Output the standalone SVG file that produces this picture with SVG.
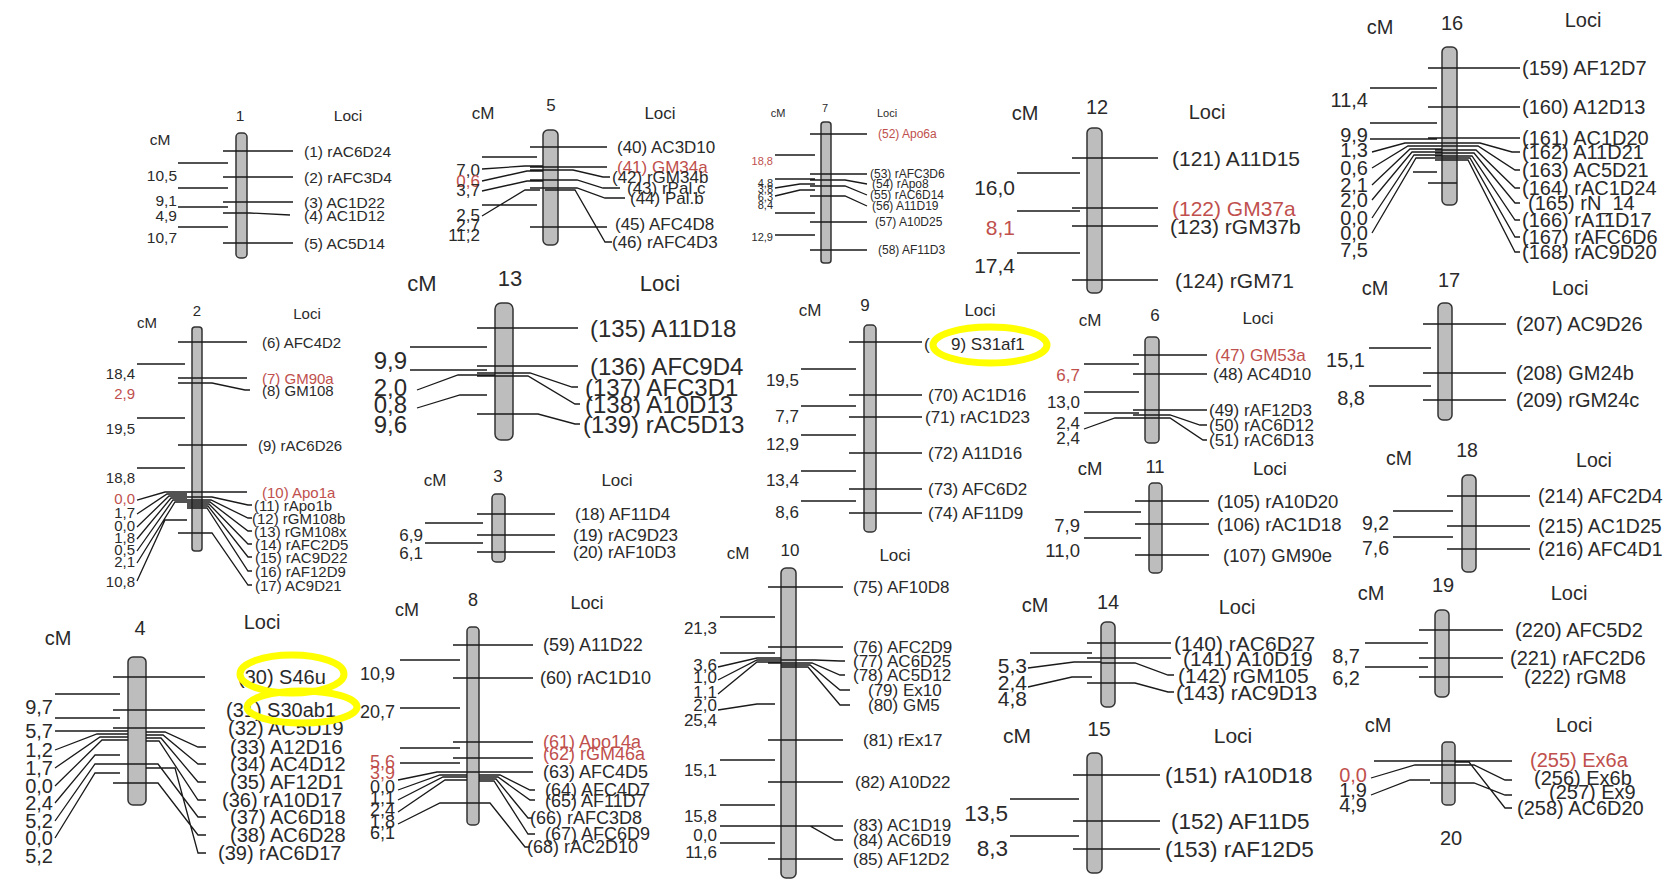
<svg xmlns="http://www.w3.org/2000/svg" width="1672" height="884" viewBox="0 0 1672 884">
<style>
text{font-family:"Liberation Sans",Arial,sans-serif;fill:#2a2a2a;dominant-baseline:central}
.r{fill:#c0504d}
.e{text-anchor:end}
.m{text-anchor:middle}
.bar{fill:#bdbdbd;stroke:#333;stroke-width:1.5}
.ln{fill:none;stroke:#1a1a1a;stroke-width:1.3}
.hl{fill:none;stroke:#ffff00;stroke-width:7}
</style>
<rect width="1672" height="884" fill="#fff"/>

<g id="chr1" font-size="15.5">
<text class="m" x="240" y="115">1</text><text class="m" x="348" y="115">Loci</text><text class="m" x="160" y="139">cM</text>
<rect class="bar" x="236" y="133" width="11" height="125" rx="4"/>
<path class="ln" d="M223,151H293M223,177H293M223,202H293M223,213H250L290,215M223,243H293M178,163H228M178,188H228M178,207H228M178,227H228"/>
<text x="304" y="151">(1) rAC6D24</text><text x="304" y="177">(2) rAFC3D4</text><text x="304" y="202">(3) AC1D22</text><text x="304" y="215">(4) AC1D12</text><text x="304" y="243">(5) AC5D14</text>
<text class="e" x="177" y="175">10,5</text><text class="e" x="177" y="200">9,1</text><text class="e" x="177" y="215">4,9</text><text class="e" x="177" y="237">10,7</text>
</g>

<g id="chr5" font-size="17">
<text class="m" x="483" y="113">cM</text><text class="m" x="551" y="105">5</text><text class="m" x="660" y="113">Loci</text>
<rect class="bar" x="543" y="130" width="15" height="115" rx="5"/>
<path class="ln" d="M530,147H607M530,167H607M530,170H573L603,177H610M530,180H577L603,188H620M530,188H577L605,198H625M545,190H575L605,242H612M530,227H607M482,157H537M482,169L525,166H543M482,181L527,171H543M482,191L527,181H543M482,205H537M482,216L525,190H540"/>
<text x="617" y="147">(40) AC3D10</text><text class="r" x="617" y="167">(41) GM34a</text><text x="612" y="177">(42) rGM34b</text><text x="627" y="188">(43) rPal.c</text><text x="630" y="198">(44) Pal.b</text><text x="615" y="224">(45) AFC4D8</text><text x="612" y="242">(46) rAFC4D3</text>
<text class="e" x="480" y="170">7,0</text><text class="e r" x="480" y="181">0,6</text><text class="e" x="480" y="190">3,7</text><text class="e" x="480" y="215">2,5</text><text class="e" x="480" y="225">2,7</text><text class="e" x="480" y="235">11,2</text>
</g>

<g id="chr7" font-size="12">
<text class="m" x="778" y="113" font-size="11">cM</text><text class="m" x="825" y="108" font-size="11">7</text><text class="m" x="887" y="113" font-size="11">Loci</text>
<rect class="bar" x="821" y="122" width="10" height="141" rx="3"/>
<path class="ln" d="M810,134H867M810,174H867M810,180H845L867,184M810,186H845L867,195M810,196H845L867,206M810,222H867M810,250H867M775,155H815M775,179H815M775,188L800,184H815M775,196L800,190H815M775,213H815M775,235H815"/>
<text class="r" x="878" y="134">(52) Apo6a</text><text x="870" y="174">(53) rAFC3D6</text><text x="872" y="184">(54) rApo8</text><text x="870" y="195">(55) rAC6D14</text><text x="872" y="206">(56) A11D19</text><text x="875" y="222">(57) A10D25</text><text x="878" y="250">(58) AF11D3</text>
<g font-size="11"><text class="e r" x="773" y="161">18,8</text><text class="e" x="773" y="183">4,8</text><text class="e" x="773" y="189">3,8</text><text class="e" x="773" y="197">6,3</text><text class="e" x="773" y="205">8,4</text><text class="e" x="773" y="237">12,9</text></g>
</g>

<g id="chr12" font-size="21">
<text class="m" x="1025" y="113" font-size="20">cM</text><text class="m" x="1097" y="107" font-size="20">12</text><text class="m" x="1207" y="112" font-size="20">Loci</text>
<rect class="bar" x="1087" y="128" width="15" height="165" rx="5"/>
<path class="ln" d="M1072,158H1158M1072,208H1158M1072,226H1158M1072,280H1158M1017,173H1080M1017,211H1080M1017,253H1080"/>
<text x="1172" y="158">(121) A11D15</text><text class="r" x="1172" y="208">(122) GM37a</text><text x="1170" y="226">(123) rGM37b</text><text x="1175" y="280">(124) rGM71</text>
<text class="e" x="1015" y="187">16,0</text><text class="e r" x="1015" y="227">8,1</text><text class="e" x="1015" y="265">17,4</text>
</g>

<g id="chr16" font-size="20">
<text class="m" x="1380" y="27">cM</text><text class="m" x="1452" y="23">16</text><text class="m" x="1583" y="20">Loci</text>
<rect class="bar" x="1442" y="47" width="15" height="158" rx="5"/>
<path class="ln" d="M1428,68H1520M1428,107H1520M1428,138H1520M1428,143H1480L1512,152H1520M1435,146H1478L1515,170H1520M1435,150H1476L1515,188H1520M1435,153H1474L1515,203H1520M1435,156H1472L1515,220H1520M1435,158H1470L1515,237H1520M1435,160H1468L1515,252H1520M1428,183H1457M1370,88H1437M1370,123H1437M1370,139H1437M1372,152L1405,143H1442M1372,168L1408,146H1442M1372,185L1410,149H1442M1372,200L1412,152H1442M1372,218L1414,155H1442M1372,233L1416,158H1442M1413,172H1437"/>
<text x="1522" y="68">(159) AF12D7</text><text x="1522" y="107">(160) A12D13</text><text x="1522" y="138">(161) AC1D20</text><text x="1522" y="152">(162) A11D21</text><text x="1522" y="170">(163) AC5D21</text><text x="1522" y="188">(164) rAC1D24</text><text x="1528" y="203">(165) rN_14</text><text x="1522" y="220">(166) rA11D17</text><text x="1522" y="237">(167) rAFC6D6</text><text x="1522" y="252">(168) rAC9D20</text>
<text class="e" x="1368" y="100">11,4</text><text class="e" x="1368" y="135">9,9</text><text class="e" x="1368" y="150">1,3</text><text class="e" x="1368" y="168">0,6</text><text class="e" x="1368" y="185">2,1</text><text class="e" x="1368" y="200">2,0</text><text class="e" x="1368" y="218">0,0</text><text class="e" x="1368" y="233">0,0</text><text class="e" x="1368" y="250">7,5</text>
</g>

<g id="chr2" font-size="15">
<text class="m" x="147" y="322">cM</text><text class="m" x="197" y="310">2</text><text class="m" x="307" y="313">Loci</text>
<rect class="bar" x="192" y="327" width="10" height="224" rx="3"/>
<path class="ln" d="M178,342H247M178,378H247M178,383H212L245,390H250M178,445H247M178,492H247M187,497H212L248,505H252M187,500H211L248,518H252M187,502H210L248,531H252M187,504H209L248,544H252M187,506H208L248,557H252M187,508H207L248,571H252M178,533H212L248,585H252M137,364H185M137,418H185M137,468H185M137,500L165,492H187M137,514L167,494H187M137,527L169,496H187M137,539L171,498H187M137,551L173,500H187M137,563L175,502H187M137,581L165,520H187"/>
<text x="262" y="342">(6) AFC4D2</text><text class="r" x="262" y="378">(7) GM90a</text><text x="262" y="390">(8) GM108</text><text x="258" y="445">(9) rAC6D26</text><text class="r" x="262" y="492">(10) Apo1a</text><text x="254" y="505">(11) rApo1b</text><text x="252" y="518">(12) rGM108b</text><text x="254" y="531">(13) rGM108x</text><text x="255" y="544">(14) rAFC2D5</text><text x="255" y="557">(15) rAC9D22</text><text x="255" y="571">(16) rAF12D9</text><text x="255" y="585">(17) AC9D21</text>
<text class="e" x="135" y="373">18,4</text><text class="e r" x="135" y="393">2,9</text><text class="e" x="135" y="428">19,5</text><text class="e" x="135" y="477">18,8</text><text class="e r" x="135" y="498">0,0</text><text class="e" x="135" y="512">1,7</text><text class="e" x="135" y="525">0,0</text><text class="e" x="135" y="537">1,8</text><text class="e" x="135" y="549">0,5</text><text class="e" x="135" y="561">2,1</text><text class="e" x="135" y="581">10,8</text>
</g>

<g id="chr13" font-size="24">
<text class="m" x="422" y="283" font-size="22">cM</text><text class="m" x="510" y="278" font-size="22">13</text><text class="m" x="660" y="283" font-size="22">Loci</text>
<rect class="bar" x="495" y="303" width="18" height="137" rx="6"/>
<path class="ln" d="M477,328H578M477,366H578M477,373H530L572,387H578M477,376H528L575,404H580M477,414H538L575,424H580M410,347H487M410,370H487M417,390L458,375H495M417,408L460,395H487"/>
<text x="590" y="328">(135) A11D18</text><text x="590" y="366">(136) AFC9D4</text><text x="585" y="387">(137) AFC3D1</text><text x="585" y="404">(138) A10D13</text><text x="583" y="424">(139) rAC5D13</text>
<text class="e" x="407" y="360">9,9</text><text class="e" x="407" y="387">2,0</text><text class="e" x="407" y="404">0,8</text><text class="e" x="407" y="424">9,6</text>
</g>

<g id="chr3" font-size="17">
<text class="m" x="435" y="480">cM</text><text class="m" x="498" y="476">3</text><text class="m" x="617" y="480">Loci</text>
<rect class="bar" x="492" y="494" width="13" height="68" rx="4"/>
<path class="ln" d="M477,514H555M477,535H555M477,552H555M425,523H483M425,543H483"/>
<text x="575" y="514">(18) AF11D4</text><text x="573" y="535">(19) rAC9D23</text><text x="573" y="552">(20) rAF10D3</text>
<text class="e" x="423" y="535">6,9</text><text class="e" x="423" y="553">6,1</text>
</g>

<g id="chr9" font-size="17">
<text class="m" x="810" y="310">cM</text><text class="m" x="865" y="305">9</text><text class="m" x="980" y="310">Loci</text>
<rect class="bar" x="864" y="325" width="12" height="207" rx="4"/>
<path class="ln" d="M849,342H922M849,395H922M849,417H922M849,453H922M849,489H922M849,513H922M801,369H856M801,406H856M801,435H856M801,471H856M801,501H856"/>
<text x="924" y="344">(</text><text x="951" y="344">9) S31af1</text>
<text x="928" y="395">(70) AC1D16</text><text x="925" y="417">(71) rAC1D23</text><text x="928" y="453">(72) A11D16</text><text x="928" y="489">(73) AFC6D2</text><text x="928" y="513">(74) AF11D9</text>
<text class="e" x="799" y="380">19,5</text><text class="e" x="799" y="416">7,7</text><text class="e" x="799" y="444">12,9</text><text class="e" x="799" y="480">13,4</text><text class="e" x="799" y="512">8,6</text>
<ellipse class="hl" cx="990" cy="345" rx="57" ry="18"/>
</g>

<g id="chr6" font-size="17">
<text class="m" x="1090" y="320">cM</text><text class="m" x="1155" y="315">6</text><text class="m" x="1258" y="318">Loci</text>
<rect class="bar" x="1145" y="337" width="14" height="106" rx="4"/>
<path class="ln" d="M1133,355H1207M1133,374H1207M1133,410H1207M1133,415H1170L1200,425H1207M1145,418H1170L1203,440H1207M1084,364H1139M1084,392H1139M1084,413H1139M1084,429L1115,418H1145"/>
<text class="r" x="1215" y="355">(47) GM53a</text><text x="1213" y="374">(48) AC4D10</text><text x="1209" y="410">(49) rAF12D3</text><text x="1209" y="425">(50) rAC6D12</text><text x="1209" y="440">(51) rAC6D13</text>
<text class="e r" x="1080" y="375">6,7</text><text class="e" x="1080" y="402">13,0</text><text class="e" x="1080" y="423">2,4</text><text class="e" x="1080" y="438">2,4</text>
</g>

<g id="chr17" font-size="20">
<text class="m" x="1375" y="288">cM</text><text class="m" x="1449" y="280">17</text><text class="m" x="1570" y="288">Loci</text>
<rect class="bar" x="1438" y="303" width="14" height="117" rx="5"/>
<path class="ln" d="M1423,324H1506M1423,373H1506M1423,400H1506M1369,348H1431M1369,386H1431"/>
<text x="1516" y="324">(207) AC9D26</text><text x="1516" y="373">(208) GM24b</text><text x="1516" y="400">(209) rGM24c</text>
<text class="e" x="1365" y="360">15,1</text><text class="e" x="1365" y="398">8,8</text>
</g>

<g id="chr11" font-size="18.5">
<text class="m" x="1090" y="468">cM</text><text class="m" x="1155" y="466">11</text><text class="m" x="1270" y="468">Loci</text>
<rect class="bar" x="1149" y="483" width="13" height="90" rx="4"/>
<path class="ln" d="M1135,501H1209M1135,524H1209M1135,555H1209M1084,512H1141M1084,538H1141"/>
<text x="1217" y="501">(105) rA10D20</text><text x="1217" y="524">(106) rAC1D18</text><text x="1223" y="555">(107) GM90e</text>
<text class="e" x="1080" y="525">7,9</text><text class="e" x="1080" y="550">11,0</text>
</g>

<g id="chr18" font-size="19.5">
<text class="m" x="1399" y="458">cM</text><text class="m" x="1467" y="450">18</text><text class="m" x="1594" y="460">Loci</text>
<rect class="bar" x="1462" y="475" width="14" height="97" rx="5"/>
<path class="ln" d="M1447,496H1530M1447,526H1530M1447,549H1530M1393,511H1453M1393,537H1453"/>
<text x="1538" y="496">(214) AFC2D4</text><text x="1538" y="526">(215) AC1D25</text><text x="1538" y="549">(216) AFC4D1</text>
<text class="e" x="1389" y="523">9,2</text><text class="e" x="1389" y="548">7,6</text>
</g>

<g id="chr4" font-size="20">
<text class="m" x="58" y="638">cM</text><text class="m" x="140" y="628">4</text><text class="m" x="262" y="622">Loci</text>
<rect class="bar" x="128" y="657" width="18" height="148" rx="5"/>
<path class="ln" d="M113,677H205M113,710H205M113,728H205M146,732H165L198,747H206M146,735H163L198,764H206M146,738H161L198,782H206M146,741H159L198,800H206M113,764H158L198,817H206M113,783H158L198,835H206M146,768H175L198,853H206M55,694H120M55,718H120M55,731L97,731H128M55,750L97,734H128M55,768L100,737H128M55,786L102,740H128M55,803L95,755H120M55,821L95,764H120M55,838L95,773H120"/>
<text x="238" y="677">(30) S46u</text><text x="226" y="710">(31) S30ab1</text><text x="228" y="728">(32) AC5D19</text><text x="230" y="747">(33) A12D16</text><text x="230" y="764">(34) AC4D12</text><text x="230" y="782">(35) AF12D1</text><text x="222" y="800">(36) rA10D17</text><text x="230" y="817">(37) AC6D18</text><text x="230" y="835">(38) AC6D28</text><text x="218" y="853">(39) rAC6D17</text>
<text class="e" x="53" y="707">9,7</text><text class="e" x="53" y="731">5,7</text><text class="e" x="53" y="750">1,2</text><text class="e" x="53" y="768">1,7</text><text class="e" x="53" y="786">0,0</text><text class="e" x="53" y="803">2,4</text><text class="e" x="53" y="821">5,2</text><text class="e" x="53" y="838">0,0</text><text class="e" x="53" y="856">5,2</text>
<ellipse class="hl" cx="292" cy="674" rx="52" ry="19"/><ellipse class="hl" cx="302" cy="707" rx="55" ry="16"/>
</g>

<g id="chr8" font-size="18">
<text class="m" x="407" y="610">cM</text><text class="m" x="473" y="600">8</text><text class="m" x="587" y="603">Loci</text>
<rect class="bar" x="467" y="627" width="12" height="198" rx="4"/>
<path class="ln" d="M453,645H533M453,678H533M453,742H533M453,758H533M453,772H533M479,775H500L530,790H535M479,777H498L530,800H535M479,779H496L528,818H532M479,781H494L528,834H535M453,803H490L525,847H530M400,660H460M400,708H460M400,748H460M400,763H460M398,780L437,772H467M398,790L440,775H467M398,800L443,777H467M398,812L445,780H467M398,824L440,803H460"/>
<text x="543" y="645">(59) A11D22</text><text x="540" y="678">(60) rAC1D10</text><text class="r" x="543" y="742">(61) Apo14a</text><text class="r" x="543" y="754">(62) rGM46a</text><text x="543" y="772">(63) AFC4D5</text><text x="545" y="790">(64) AFC4D7</text><text x="545" y="801">(65) AF11D7</text><text x="530" y="818">(66) rAFC3D8</text><text x="545" y="834">(67) AFC6D9</text><text x="527" y="847">(68) rAC2D10</text>
<text class="e" x="395" y="674">10,9</text><text class="e" x="395" y="712">20,7</text><text class="e r" x="395" y="762">5,6</text><text class="e r" x="395" y="773">3,9</text><text class="e" x="395" y="787">0,0</text><text class="e" x="395" y="798">1,1</text><text class="e" x="395" y="810">2,4</text><text class="e" x="395" y="822">1,8</text><text class="e" x="395" y="833">6,1</text>
</g>

<g id="chr10" font-size="17">
<text class="m" x="738" y="553">cM</text><text class="m" x="790" y="550">10</text><text class="m" x="895" y="555">Loci</text>
<rect class="bar" x="781" y="568" width="15" height="310" rx="5"/>
<path class="ln" d="M768,587H843M768,647H843M768,660H815L840,661H845M768,663H812L840,675H845M781,665H810L840,690H850M781,667H808L840,705H850M768,740H843M768,782H843M720,826H843M796,826H810L835,840H843M768,859H843M720,617H775M720,653H775M718,667L757,658H781M718,680L757,660H781M718,694L757,662H781M718,710L757,704H775M720,760H775M720,805H775M720,843H775"/>
<text x="853" y="587">(75) AF10D8</text><text x="853" y="647">(76) AFC2D9</text><text x="853" y="661">(77) AC6D25</text><text x="853" y="675">(78) AC5D12</text><text x="868" y="690">(79) Ex10</text><text x="868" y="705">(80) GM5</text><text x="863" y="740">(81) rEx17</text><text x="855" y="782">(82) A10D22</text><text x="853" y="825">(83) AC1D19</text><text x="853" y="840">(84) AC6D19</text><text x="853" y="859">(85) AF12D2</text>
<text class="e" x="717" y="628">21,3</text><text class="e" x="717" y="665">3,6</text><text class="e" x="717" y="677">1,0</text><text class="e" x="717" y="692">1,1</text><text class="e" x="717" y="705">2,0</text><text class="e" x="717" y="720">25,4</text><text class="e" x="717" y="770">15,1</text><text class="e" x="717" y="816">15,8</text><text class="e" x="717" y="835">0,0</text><text class="e" x="717" y="852">11,6</text>
</g>

<g id="chr14" font-size="21">
<text class="m" x="1035" y="605" font-size="20">cM</text><text class="m" x="1108" y="602" font-size="20">14</text><text class="m" x="1237" y="607" font-size="20">Loci</text>
<rect class="bar" x="1101" y="622" width="14" height="85" rx="5"/>
<path class="ln" d="M1087,643H1171M1087,658H1171M1101,663H1135L1168,675H1174M1087,683H1135L1168,692H1174M1030,653H1092M1028,668L1074,662H1101M1028,687L1072,677H1092"/>
<text x="1174" y="643">(140) rAC6D27</text><text x="1183" y="658">(141) A10D19</text><text x="1178" y="675">(142) rGM105</text><text x="1176" y="692">(143) rAC9D13</text>
<text class="e" x="1027" y="665">5,3</text><text class="e" x="1027" y="682">2,4</text><text class="e" x="1027" y="698">4,8</text>
</g>

<g id="chr15" font-size="22.5">
<text class="m" x="1017" y="735" font-size="21">cM</text><text class="m" x="1099" y="728" font-size="21">15</text><text class="m" x="1233" y="735" font-size="21">Loci</text>
<rect class="bar" x="1087" y="753" width="15" height="120" rx="5"/>
<path class="ln" d="M1073,775H1160M1073,821H1160M1073,849H1160M1010,799H1079M1010,836H1079"/>
<text x="1165" y="775">(151) rA10D18</text><text x="1171" y="821">(152) AF11D5</text><text x="1165" y="849">(153) rAF12D5</text>
<text class="e" x="1008" y="813">13,5</text><text class="e" x="1008" y="848">8,3</text>
</g>

<g id="chr19" font-size="20">
<text class="m" x="1371" y="593">cM</text><text class="m" x="1443" y="585">19</text><text class="m" x="1569" y="593">Loci</text>
<rect class="bar" x="1435" y="610" width="14" height="87" rx="5"/>
<path class="ln" d="M1419,630H1503M1419,658H1503M1419,677H1503M1365,643H1428M1365,667H1428"/>
<text x="1515" y="630">(220) AFC5D2</text><text x="1510" y="658">(221) rAFC2D6</text><text x="1524" y="677">(222) rGM8</text>
<text class="e" x="1360" y="656">8,7</text><text class="e" x="1360" y="678">6,2</text>
</g>

<g id="chr20" font-size="20">
<text class="m" x="1378" y="725">cM</text><text class="m" x="1574" y="725">Loci</text><text class="m" x="1451" y="838">20</text>
<rect class="bar" x="1442" y="742" width="13" height="63" rx="4"/>
<path class="ln" d="M1374,761H1512M1442,765H1474L1505,780H1512M1430,783H1474L1505,795H1512M1455,762H1469L1505,808H1512M1371,778L1415,765H1442M1371,795L1410,780H1430"/>
<text class="r" x="1530" y="760">(255) Ex6a</text><text x="1534" y="778">(256) Ex6b</text><text x="1549" y="792">(257) Ex9</text><text x="1517" y="808">(258) AC6D20</text>
<text class="e r" x="1367" y="775">0,0</text><text class="e" x="1367" y="790">1,9</text><text class="e" x="1367" y="805">4,9</text>
</g>
</svg>
